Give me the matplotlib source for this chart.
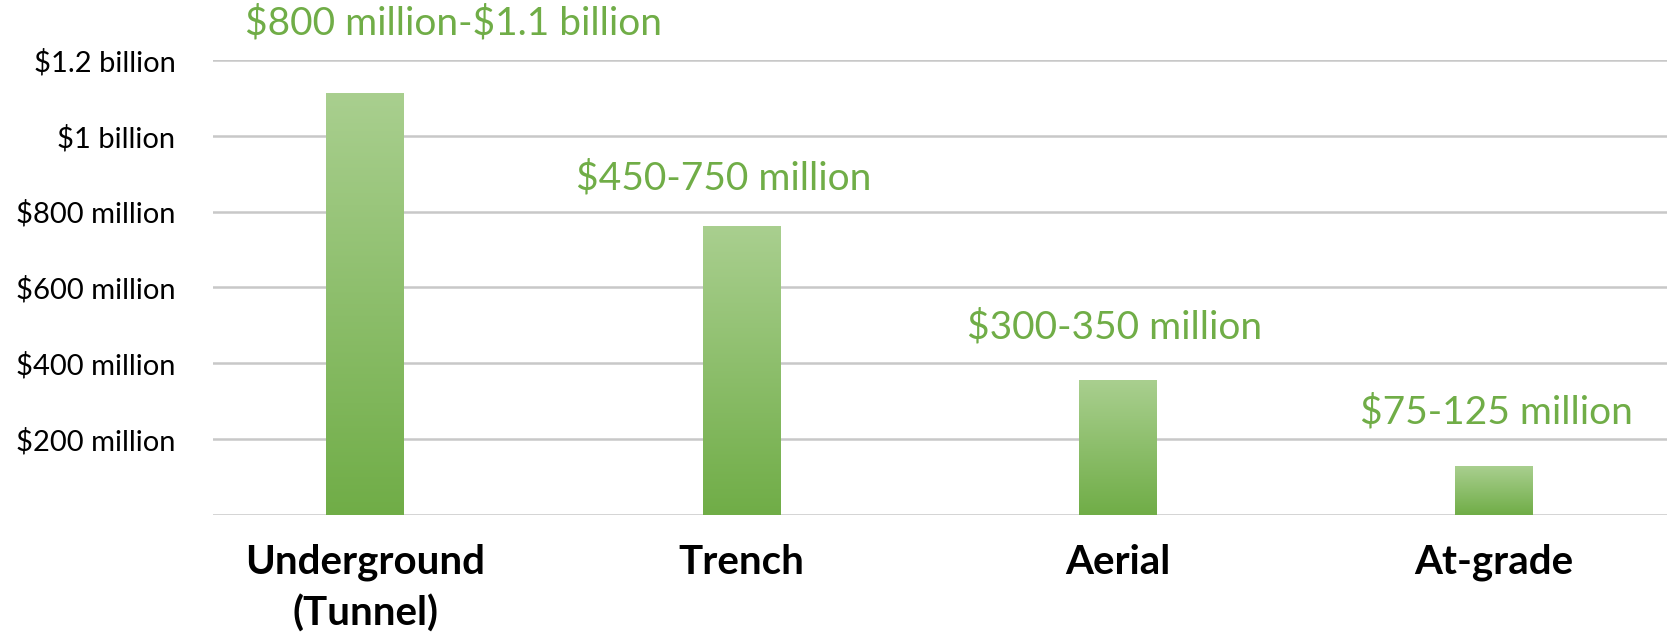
import numpy as np
import matplotlib.pyplot as plt
from matplotlib.colors import LinearSegmentedColormap

plt.rcParams['font.family'] = ['Lato', 'DejaVu Sans']
plt.rcParams['text.parse_math'] = False

# data (billions of dollars, upper end of each cost range)
categories = ['Underground\n(Tunnel)', 'Trench', 'Aerial', 'At-grade']
costs = [1.113, 0.761, 0.356, 0.128]
range_labels = ['$800 million-$1.1 billion', '$450-750 million',
                '$300-350 million', '$75-125 million']
yticks = [0, 0.2, 0.4, 0.6, 0.8, 1.0, 1.2]
ytick_labels = ['', '$200 million', '$400 million', '$600 million',
                '$800 million', '$1 billion', '$1.2 billion']

# label offsets from bar top (points)
label_offsets = [(64, 50), (-13, 35), (-2, 38), (2, 39)]

green = '#70AD47'
cmap = LinearSegmentedColormap.from_list('g', ['#70AD47', '#A9CF8F'])

fig = plt.figure(figsize=(16.67, 6.4), dpi=100)
ax = fig.add_axes([0.1278, 0.196, 0.8722, 0.710])

x = np.arange(len(categories))
bars = ax.bar(x, costs, width=0.206, color='none', zorder=2)

# vertical gradient fill inside each bar
grad = np.linspace(0, 1, 256).reshape(-1, 1)
for b in bars:
    x0, y0 = b.get_x(), b.get_y()
    im = ax.imshow(grad, extent=[x0, x0 + b.get_width(), y0, y0 + b.get_height()],
                   origin='lower', cmap=cmap, aspect='auto', zorder=2)
    im.set_clip_path(b)

for xi, v, lab, (dx, dy) in zip(x, costs, range_labels, label_offsets):
    ax.annotate(lab, xy=(xi, v), xytext=(dx, dy), textcoords='offset points',
                ha='center', va='center', fontsize=28, color=green,
                annotation_clip=False)

ax.set_xlim(-0.404, 3.46)
ax.set_ylim(0, 1.2)
ax.set_yticks(yticks)
ax.set_yticklabels(ytick_labels, fontsize=21, va='center_baseline')
ax.set_xticks(x)
ax.set_xticklabels(categories, fontsize=29, fontweight='bold', linespacing=1.42)
ax.tick_params(axis='both', length=0)
ax.tick_params(axis='y', pad=27)
ax.tick_params(axis='x', pad=21)
ax.yaxis.grid(True, color='#C8C8C8', linewidth=1.8, zorder=0)
ax.set_axisbelow(True)
for s in ax.spines.values():
    s.set_visible(False)

fig.savefig('out.png', dpi=100)
